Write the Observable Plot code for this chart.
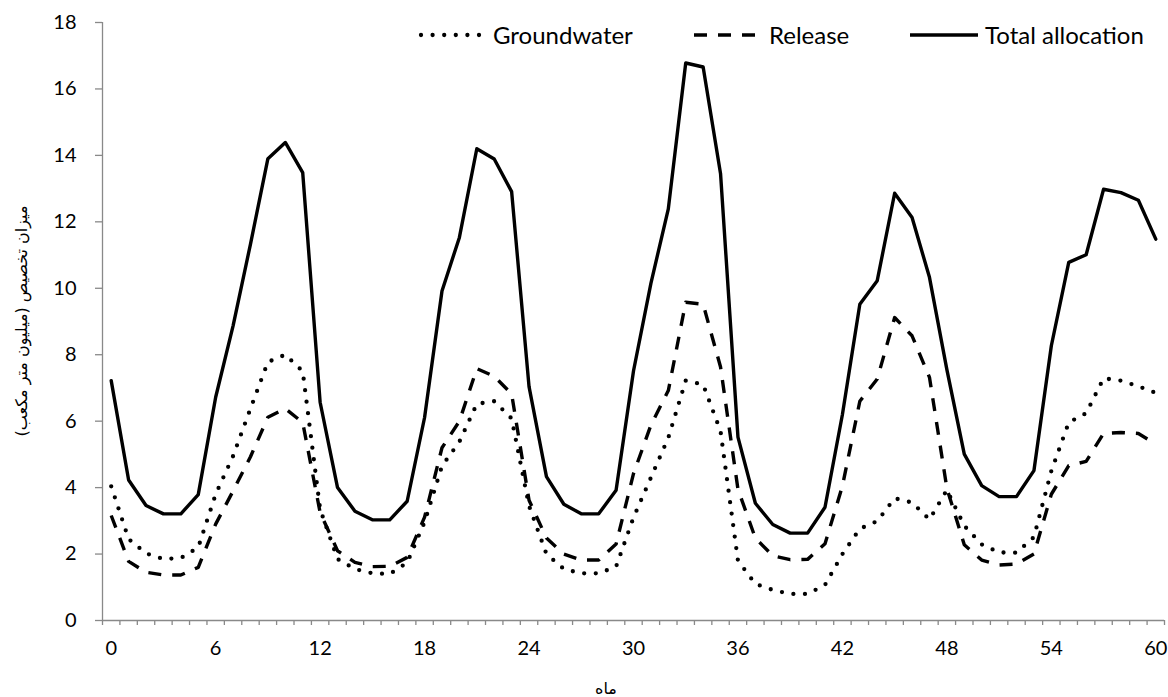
<!DOCTYPE html>
<html>
<head>
<meta charset="utf-8">
<script src="https://cdn.jsdelivr.net/npm/d3@7"></script>
<script src="https://cdn.jsdelivr.net/npm/@observablehq/plot@0.6"></script>
<style>
  body { margin: 0; background: #fff; }
  #chart { position: relative; width: 1168px; height: 697px; font-family: Lato, "DejaVu Sans", sans-serif; color: #000; }
  #chart svg.plot { position: absolute; left: 0; top: 0; }
  .leg { position: absolute; top: 35px; transform: translateY(-50%); display: flex; align-items: center; font-size: 24px; white-space: nowrap; line-height: 1; }
  .leg svg { margin-right: 7px; }
  .ytitle { position: absolute; left: 21px; top: 321px; transform: translate(-50%, -50%) rotate(-90deg); font-family: "DejaVu Sans", sans-serif; font-size: 16px; white-space: nowrap; direction: rtl; }
  .xtitle { position: absolute; left: 606px; top: 688px; transform: translate(-50%, -50%); font-family: "DejaVu Sans", sans-serif; font-size: 16px; white-space: nowrap; direction: rtl; }
</style>
</head>
<body>
<div id="chart"></div>
<script>
// ---- data ----
const months = d3.range(0, 61);
const groundwater = [4.04, 2.45, 2.02, 1.85, 1.88, 2.2, 3.8, 4.95, 6.38, 7.78,
  8.0, 7.5, 3.35, 1.85, 1.55, 1.42, 1.40, 1.74, 2.96, 4.65,
  5.38, 6.52, 6.6, 6.08, 3.45, 2.0, 1.55, 1.42, 1.42, 1.62,
  3.1, 4.3, 5.5, 7.22, 7.1, 5.7, 1.8, 1.1, 0.92, 0.8,
  0.8, 1.07, 2.0, 2.76, 2.99, 3.68, 3.55, 3.04, 3.93, 2.85,
  2.29, 2.05, 2.04, 2.51, 4.5, 5.96, 6.24, 7.29, 7.22, 7.05,
  6.85];
const release = [3.16, 1.78, 1.45, 1.37, 1.37, 1.6, 2.9, 3.9, 4.93, 6.12,
  6.38, 5.96, 3.25, 2.1, 1.75, 1.62, 1.63, 1.9, 3.11, 5.2,
  6.0, 7.58, 7.35, 6.82, 3.62, 2.48, 2.0, 1.82, 1.82, 2.3,
  4.42, 5.88, 6.92, 9.58, 9.52, 7.63, 3.95, 2.48, 1.95, 1.83,
  1.84, 2.31, 4.05, 6.6, 7.27, 9.12, 8.57, 7.32, 3.98, 2.28,
  1.82, 1.67, 1.70, 2.0, 3.8, 4.66, 4.79, 5.63, 5.66, 5.63,
  5.31];
const total = [7.22, 4.23, 3.46, 3.21, 3.21, 3.79, 6.72, 8.87, 11.33, 13.90,
  14.39, 13.48, 6.57, 4.0, 3.29, 3.03, 3.03, 3.59, 6.11, 9.92,
  11.53, 14.2, 13.89, 12.91, 7.04, 4.33, 3.5, 3.21, 3.21, 3.92,
  7.51, 10.15, 12.39, 16.78, 16.66, 13.45, 5.52, 3.53, 2.89, 2.63,
  2.63, 3.41, 6.2, 9.52, 10.23, 12.86, 12.13, 10.33, 7.55, 5.01,
  4.06, 3.73, 3.73, 4.51, 8.27, 10.78, 11.01, 12.98, 12.88, 12.65,
  11.48];
const seriesNames = ["Groundwater", "Release", "Total allocation"];
const xTicks = [0, 6, 12, 18, 24, 30, 36, 42, 48, 54, 60];
const yTicks = [0, 2, 4, 6, 8, 10, 12, 14, 16, 18];
const xTitle = "ماه";
const yTitle = "میزان تخصیص (میلیون متر مکعب)";

// ---- styles ----
const gray = "#898989";
const lineStyles = [
  {strokeWidth: 4.3, strokeDasharray: "0 11.6", strokeLinecap: "round"},
  {strokeWidth: 3.4, strokeDasharray: "13 11", strokeLinecap: "butt"},
  {strokeWidth: 3.4, strokeDasharray: null, strokeLinecap: "round"}
];
const legendLeft = [418, 694, 910];

const seriesValues = [groundwater, release, total];
const rows = vals => months.map((m, i) => ({month: m, value: vals[i]}));
const boundaries = months.map(m => m - 0.5).concat([months[months.length - 1] + 0.5]);

const plot = Plot.plot({
  width: 1168,
  height: 697,
  marginTop: 22,
  marginBottom: 77,
  marginLeft: 102,
  marginRight: 4,
  style: {fontFamily: 'Lato, "DejaVu Sans", sans-serif', fontSize: "20px", background: "transparent", color: "#000"},
  x: {type: "linear", domain: [boundaries[0], boundaries[boundaries.length - 1]]},
  y: {domain: [yTicks[0], yTicks[yTicks.length - 1]]},
  marks: [
    Plot.axisY(yTicks, {tickSize: 7, tickFormat: () => "", stroke: gray, strokeWidth: 1.3, label: null}),
    Plot.axisY(yTicks, {tickSize: 0, tickPadding: 26, fill: "#000", label: null}),
    Plot.axisX(boundaries, {tickSize: 5, tickFormat: () => "", stroke: gray, strokeWidth: 1.3, label: null}),
    Plot.axisX(xTicks, {tickSize: 0, tickPadding: 20, fill: "#000", label: null}),
    Plot.ruleY([yTicks[0]], {stroke: gray, strokeWidth: 1.3}),
    Plot.ruleX([boundaries[0]], {stroke: gray, strokeWidth: 1.3}),
    ...seriesValues.map((vals, k) => Plot.line(rows(vals), {
      x: "month", y: "value", stroke: "#000",
      strokeWidth: lineStyles[k].strokeWidth,
      strokeDasharray: lineStyles[k].strokeDasharray,
      strokeLinecap: lineStyles[k].strokeLinecap,
      strokeLinejoin: "round"
    }))
  ]
});

const chart = document.getElementById("chart");
chart.appendChild(plot);

// legend (HTML, above the plot)
seriesNames.forEach((name, k) => {
  const item = document.createElement("div");
  item.className = "leg";
  item.style.left = legendLeft[k] + "px";
  const st = lineStyles[k];
  item.innerHTML = `<svg width="68" height="10"><line x1="${st.strokeLinecap === "round" && st.strokeDasharray ? 3 : 0}" y1="5" x2="68" y2="5" stroke="#000" stroke-width="${st.strokeWidth}" ${st.strokeDasharray ? `stroke-dasharray="${st.strokeDasharray}"` : ""} stroke-linecap="${st.strokeLinecap}"/></svg><span>${name}</span>`;
  chart.appendChild(item);
});

const yt = document.createElement("div");
yt.className = "ytitle";
yt.textContent = yTitle;
chart.appendChild(yt);

const xt = document.createElement("div");
xt.className = "xtitle";
xt.textContent = xTitle;
chart.appendChild(xt);
</script>
</body>
</html>
